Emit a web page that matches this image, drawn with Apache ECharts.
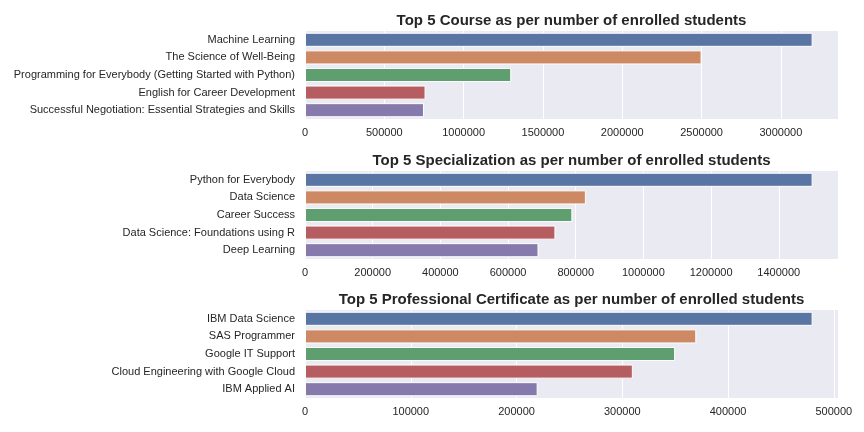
<!DOCTYPE html>
<html>
<head>
<meta charset="utf-8">
<script src="https://cdn.jsdelivr.net/npm/echarts@6/dist/echarts.min.js"></script>
<style>
html,body{margin:0;padding:0;background:#fff;}
#chart{width:864px;height:432px;}
</style>
</head>
<body>
<div id="chart"></div>
<script>
const courseNames = ["Machine Learning", "The Science of Well-Being", "Programming for Everybody (Getting Started with Python)", "English for Career Development", "Successful Negotiation: Essential Strategies and Skills"];
const courseValues = [3200000, 2500000, 1300000, 760000, 750000];
const specNames = ["Python for Everybody", "Data Science", "Career Success", "Data Science: Foundations using R", "Deep Learning"];
const specValues = [1500000, 830000, 790000, 740000, 690000];
const certNames = ["IBM Data Science", "SAS Programmer", "Google IT Support", "Cloud Engineering with Google Cloud", "IBM Applied AI"];
const certValues = [480000, 370000, 350000, 310000, 220000];
const titles = ["Top 5 Course as per number of enrolled students", "Top 5 Specialization as per number of enrolled students", "Top 5 Professional Certificate as per number of enrolled students"];
const tickIntervals = [500000, 200000, 100000];

const palette = ["#5975A4", "#CC8963", "#5F9E6E", "#B55D60", "#857AAB"];
const textColor = "#262626";
const font = "Liberation Sans, Arial, sans-serif";

const panels = [
  {names: courseNames, values: courseValues},
  {names: specNames, values: specValues},
  {names: certNames, values: certValues}
];
const gridTops = [31, 171, 310];
const gridH = 88;
const titleTops = [13, 153, 292];

const option = {
  backgroundColor: "#ffffff",
  animation: false,
  color: palette,
  title: titles.map((t, i) => ({
    text: t,
    left: 571.5,
    top: titleTops[i],
    textAlign: "center",
    padding: 0,
    textStyle: {fontFamily: font, fontSize: 15, fontWeight: "bold", color: textColor}
  })),
  grid: gridTops.map(t => ({
    left: 305, right: 26, top: t, height: gridH,
    show: true, backgroundColor: "#EAEAF2", borderWidth: 0
  })),
  xAxis: panels.map((p, i) => ({
    type: "value",
    gridIndex: i,
    min: 0,
    max: Math.max(...p.values) * 1.05,
    interval: tickIntervals[i],
    axisLine: {show: false},
    axisTick: {show: false},
    splitLine: {show: true, showMaxLine: false, lineStyle: {color: "#ffffff", width: 1}},
    axisLabel: {
      showMaxLabel: false,
      margin: 8,
      color: textColor, fontFamily: font, fontSize: 11,
      formatter: v => String(v)
    }
  })),
  yAxis: panels.map((p, i) => ({
    type: "category",
    gridIndex: i,
    inverse: true,
    data: p.names,
    axisLine: {show: false},
    axisTick: {show: false},
    splitLine: {show: false},
    axisLabel: {margin: 10, color: textColor, fontFamily: font, fontSize: 11}
  })),
  series: panels.map((p, i) => ({
    type: "bar",
    xAxisIndex: i,
    yAxisIndex: i,
    data: p.values,
    colorBy: "data",
    barCategoryGap: "20%",
    itemStyle: {borderColor: "#ffffff", borderWidth: 1}
  }))
};

const chart = echarts.init(document.getElementById("chart"), null, {renderer: "canvas"});
chart.setOption(option);
</script>
</body>
</html>
